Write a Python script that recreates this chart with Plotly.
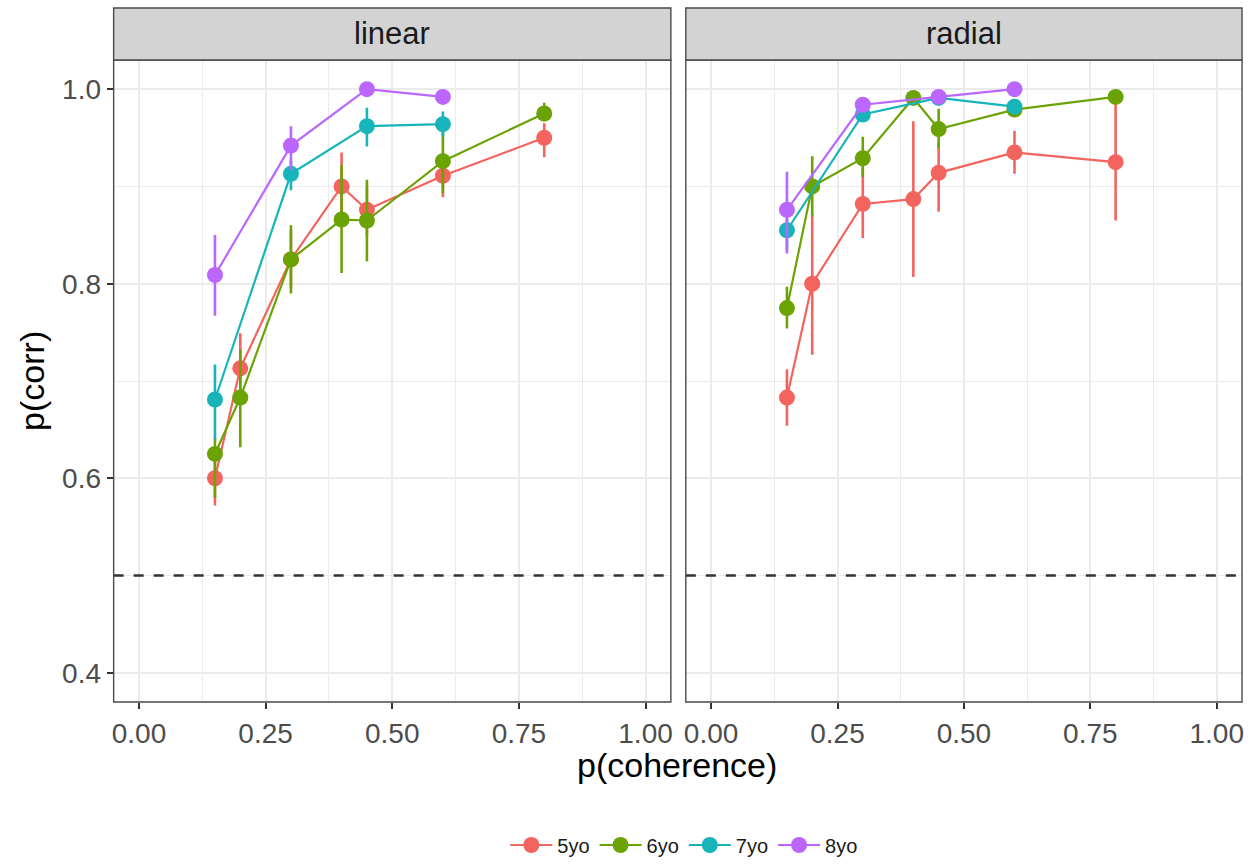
import plotly.graph_objects as go

# coherence levels tested per age group
coh_young = [0.15, 0.2, 0.3, 0.4, 0.45, 0.6, 0.8]
coh_old = [0.15, 0.3, 0.45, 0.6]

ages = ["5yo", "6yo", "7yo", "8yo"]
age_colors = ["#F4645E", "#6BA304", "#17B5BA", "#BA66FF"]

# ---- linear motion: mean proportion correct and interval bounds ----
lin_5_mean = [0.600, 0.713, 0.825, 0.900, 0.876, 0.911, 0.950]
lin_5_lo = [0.572, 0.687, 0.795, 0.869, 0.850, 0.889, 0.930]
lin_5_hi = [0.625, 0.749, 0.855, 0.935, 0.900, 0.927, 0.965]

lin_6_mean = [0.625, 0.683, 0.825, 0.866, 0.865, 0.926, 0.975]
lin_6_lo = [0.580, 0.632, 0.790, 0.811, 0.823, 0.893, 0.967]
lin_6_hi = [0.642, 0.732, 0.860, 0.922, 0.907, 0.958, 0.986]

lin_7_mean = [0.681, 0.913, 0.962, 0.964]
lin_7_lo = [0.640, 0.896, 0.941, 0.951]
lin_7_hi = [0.717, 0.927, 0.981, 0.977]

lin_8_mean = [0.809, 0.942, 1.000, 0.992]
lin_8_lo = [0.767, 0.917, 0.996, 0.988]
lin_8_hi = [0.850, 0.962, 1.000, 0.996]

# ---- radial motion ----
rad_5_mean = [0.683, 0.800, 0.882, 0.887, 0.914, 0.935, 0.925]
rad_5_lo = [0.654, 0.727, 0.847, 0.807, 0.874, 0.913, 0.865]
rad_5_hi = [0.712, 0.870, 0.920, 0.967, 0.945, 0.957, 0.990]

rad_6_mean = [0.775, 0.900, 0.929, 0.991, 0.959, 0.979, 0.992]
rad_6_lo = [0.754, 0.869, 0.910, 0.985, 0.939, 0.975, 0.988]
rad_6_hi = [0.797, 0.931, 0.951, 0.996, 0.980, 0.984, 0.996]

rad_7_mean = [0.855, 0.974, 0.991, 0.982]
rad_7_lo = [0.835, 0.968, 0.987, 0.978]
rad_7_hi = [0.875, 0.980, 0.995, 0.986]

rad_8_mean = [0.876, 0.984, 0.992, 1.000]
rad_8_lo = [0.831, 0.978, 0.988, 0.998]
rad_8_hi = [0.915, 0.990, 0.996, 1.000]

panels = ["linear", "radial"]
CHANCE = 0.5

x_ticks = [0.0, 0.25, 0.5, 0.75, 1.0]
y_ticks = [0.4, 0.6, 0.8, 1.0]

panel_data = {
    "linear": [
        (coh_young, lin_5_mean, lin_5_lo, lin_5_hi),
        (coh_young, lin_6_mean, lin_6_lo, lin_6_hi),
        (coh_old, lin_7_mean, lin_7_lo, lin_7_hi),
        (coh_old, lin_8_mean, lin_8_lo, lin_8_hi),
    ],
    "radial": [
        (coh_young, rad_5_mean, rad_5_lo, rad_5_hi),
        (coh_young, rad_6_mean, rad_6_lo, rad_6_hi),
        (coh_old, rad_7_mean, rad_7_lo, rad_7_hi),
        (coh_old, rad_8_mean, rad_8_lo, rad_8_hi),
    ],
}

W, H = 1254, 867
FONT = "Liberation Sans, Arial, Helvetica, sans-serif"

# panel geometry in pixels
px_left = [(112, 671), (686, 1244)]
py_top, py_bot = 60, 702
strip_top = 8

def fx(p):
    return p / W

def fy(p):
    return 1 - p / H

fig = go.Figure()

axis_ids = ["", "2"]
for pi, panel in enumerate(panels):
    xa = "x" + axis_ids[pi]
    ya = "y" + axis_ids[pi]
    for ai, (xs, mean, lo, hi) in enumerate(panel_data[panel]):
        col = age_colors[ai]
        fig.add_trace(go.Scatter(
            x=xs, y=mean, xaxis=xa, yaxis=ya,
            mode="lines+markers",
            name=ages[ai], legendgroup=ages[ai], showlegend=(pi == 0),
            line=dict(color=col, width=2.2),
            marker=dict(color=col, size=16),
            error_y=dict(
                type="data", symmetric=False,
                array=[h - m for h, m in zip(hi, mean)],
                arrayminus=[m - l for m, l in zip(mean, lo)],
                color=col, thickness=2.6, width=0,
            ),
        ))

grid_col = "#EBEBEB"
common_x = dict(
    range=[-0.05, 1.05], tickvals=x_ticks, tickformat=".2f",
    ticks="outside", ticklen=6, tickwidth=1.5, tickcolor="#333333",
    tickfont=dict(size=28, color="#4D4D4D", family=FONT),
    showgrid=True, gridcolor=grid_col, gridwidth=1.8,
    minor=dict(tick0=0.125, dtick=0.25, showgrid=True, gridcolor=grid_col, gridwidth=1.2),
    zeroline=False, showline=False,
)
common_y = dict(
    range=[0.37, 1.03], tickvals=y_ticks, tickformat=".1f",
    showgrid=True, gridcolor=grid_col, gridwidth=1.8,
    minor=dict(tick0=0.5, dtick=0.2, showgrid=True, gridcolor=grid_col, gridwidth=1.2),
    zeroline=False, showline=False,
)

fig.update_layout(
    width=W, height=H,
    margin=dict(l=0, r=0, t=0, b=0),
    paper_bgcolor="white", plot_bgcolor="white",
    font=dict(family=FONT),
    xaxis=dict(domain=[fx(px_left[0][0]), fx(px_left[0][1])], anchor="y", **common_x),
    xaxis2=dict(domain=[fx(px_left[1][0]), fx(px_left[1][1])], anchor="y2", **common_x),
    yaxis=dict(domain=[fy(py_bot), fy(py_top)], anchor="x",
               ticks="outside", ticklen=6, tickwidth=1.5, tickcolor="#333333",
               tickfont=dict(size=28, color="#4D4D4D", family=FONT), **common_y),
    yaxis2=dict(domain=[fy(py_bot), fy(py_top)], anchor="x2", matches="y",
                showticklabels=False, ticks="", **common_y),
    legend=dict(
        orientation="h", x=fx(684), xanchor="center", y=fy(845), yanchor="middle",
        font=dict(size=20, color="#1A1A1A", family=FONT),
        itemwidth=42, tracegroupgap=0, bgcolor="rgba(0,0,0,0)",
    ),
    showlegend=True,
)

# chance-level reference line in each panel (above the grid)
for pi in range(2):
    fig.add_shape(type="line", xref=("x" + axis_ids[pi] + " domain"), yref=("y" + axis_ids[pi]),
                  x0=0, x1=1, y0=CHANCE, y1=CHANCE,
                  line=dict(color="#333333", width=2.5, dash="10px,10px"), layer="above")

# panel borders and facet strips
for pi, panel in enumerate(panels):
    x0, x1 = px_left[pi]
    fig.add_shape(type="rect", xref="paper", yref="paper",
                  x0=fx(x0), x1=fx(x1), y0=fy(py_bot), y1=fy(py_top),
                  line=dict(color="#4A4A4A", width=1.4), fillcolor="rgba(0,0,0,0)", layer="above")
    fig.add_shape(type="rect", xref="paper", yref="paper",
                  x0=fx(x0), x1=fx(x1), y0=fy(py_top), y1=fy(strip_top),
                  line=dict(color="#4A4A4A", width=1.4), fillcolor="#D3D3D3", layer="above")
    fig.add_annotation(text=panel, xref="paper", yref="paper",
                       x=fx((x0 + x1) / 2), y=fy((py_top + strip_top) / 2),
                       showarrow=False, xanchor="center", yanchor="middle",
                       font=dict(size=31, color="#1A1A1A", family=FONT))

# axis titles
fig.add_annotation(text="p(coherence)", xref="paper", yref="paper",
                   x=fx(677), y=fy(765), showarrow=False,
                   xanchor="center", yanchor="middle",
                   font=dict(size=34, color="black", family=FONT))
fig.add_annotation(text="p(corr)", xref="paper", yref="paper",
                   x=fx(30), y=fy(381), showarrow=False, textangle=-90,
                   xanchor="center", yanchor="middle",
                   font=dict(size=34, color="black", family=FONT))

fig.write_html("out.html")
